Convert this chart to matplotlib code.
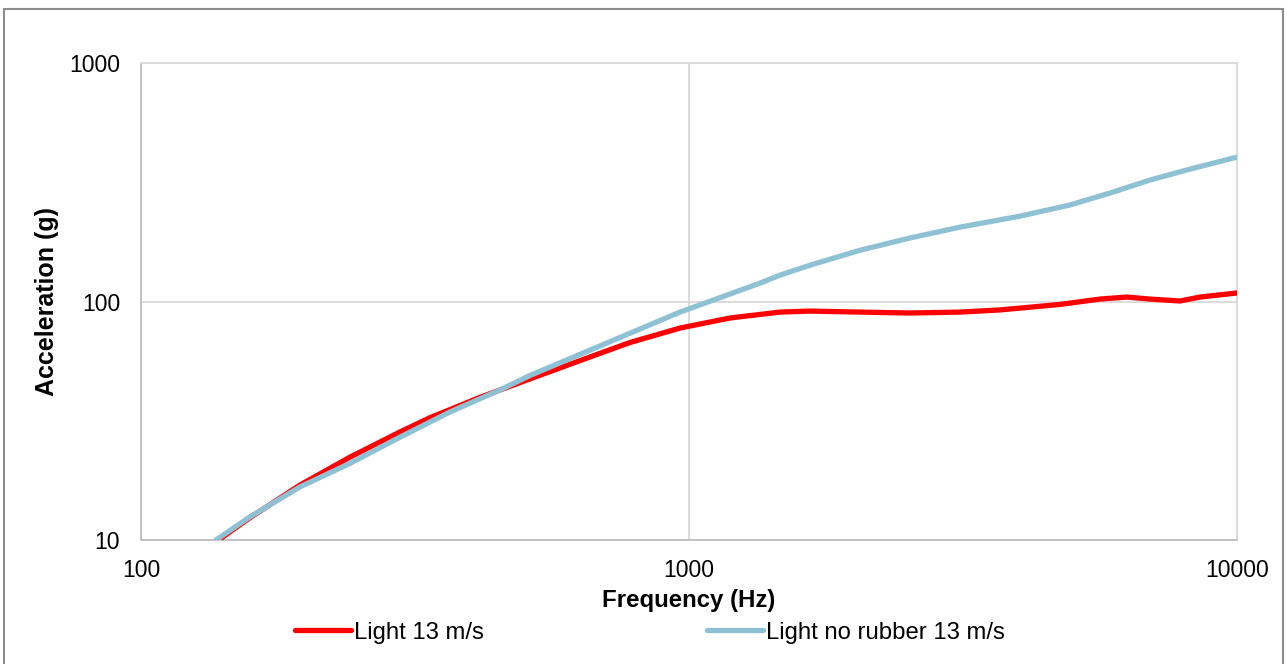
import matplotlib.pyplot as plt
from matplotlib.patches import Rectangle

plt.rcParams['font.family'] = ['Liberation Sans', 'DejaVu Sans']

# values (log-log)
freq_red = [135, 158, 195, 241, 297, 337, 415, 513, 632, 780, 963, 1188, 1466, 1663,
            2051, 2532, 3123, 3694, 4753, 5623, 6298, 6937, 7870, 8561, 10000]
acc_red = [9.6, 12.4, 17.0, 22.3, 28.4, 32.6, 39.6, 47.4, 56.5, 67.3, 77.4, 85.3, 90.3, 91.2,
           90.3, 89.5, 90.3, 92.2, 97.2, 102.4, 104.4, 102.4, 100.5, 104.4, 108.6]

freq_blue = [137, 158, 195, 241, 297, 366, 452, 513, 632, 963, 1350, 1466, 1663, 2051,
             2532, 3123, 4018, 4958, 5866, 6937, 8208, 10000]
acc_blue = [10, 12.5, 16.7, 21.0, 27.0, 34.4, 42.6, 49.0, 60.0, 90.3, 119.6, 129, 142, 164,
            184.7, 205, 228, 254, 285, 323, 359, 403]

labels = ['Light 13 m/s', 'Light no rubber 13 m/s']
colors = ['#ff0000', '#8fc1d4']

fig = plt.figure(figsize=(12.87, 6.64), dpi=100)
ax = fig.add_axes([0.1096, 0.1867, 0.8515, 0.7184])

ax.plot(freq_red, acc_red, color=colors[0], lw=3.8, label=labels[0],
        solid_capstyle='round', solid_joinstyle='round', zorder=3)
ax.plot(freq_blue, acc_blue, color=colors[1], lw=3.8, label=labels[1],
        solid_capstyle='round', solid_joinstyle='round', zorder=4)

ax.set_xscale('log')
ax.set_yscale('log')
ax.set_xlim(100, 10000)
ax.set_ylim(10, 1000)
ax.set_xticks([100, 1000, 10000])
ax.set_xticklabels(['100', '1000', '10000'])
ax.set_yticks([10, 100, 1000])
ax.set_yticklabels(['10', '100', '1000'])
ax.minorticks_off()
ax.tick_params(length=0, labelsize=16.5, pad=14)
ax.tick_params(axis='y', pad=15)
ax.grid(True, color='#d9d9d9', lw=1.3)
for s in ax.spines.values():
    s.set_color('#d9d9d9')
    s.set_linewidth(1.3)
ax.spines['left'].set_color('#bfbfbf')
ax.spines['bottom'].set_color('#bfbfbf')

ax.set_xlabel('Frequency (Hz)', fontsize=17.3, fontweight='bold', labelpad=5)
ax.set_ylabel('Acceleration (g)', fontsize=18, fontweight='bold', labelpad=7)

fig.legend(loc='center', bbox_to_anchor=(0.505, 0.047), ncol=2, frameon=False,
           fontsize=17.2, handlelength=2.34, handletextpad=0.13, columnspacing=9.37)

fig.patches.append(Rectangle((4 / 1287, -0.02), 1279 / 1287, 0.9864 + 0.02,
                             transform=fig.transFigure, fill=False,
                             edgecolor='#8c8c8c', lw=1.5))

fig.savefig('out.png', dpi=100, facecolor='white')
